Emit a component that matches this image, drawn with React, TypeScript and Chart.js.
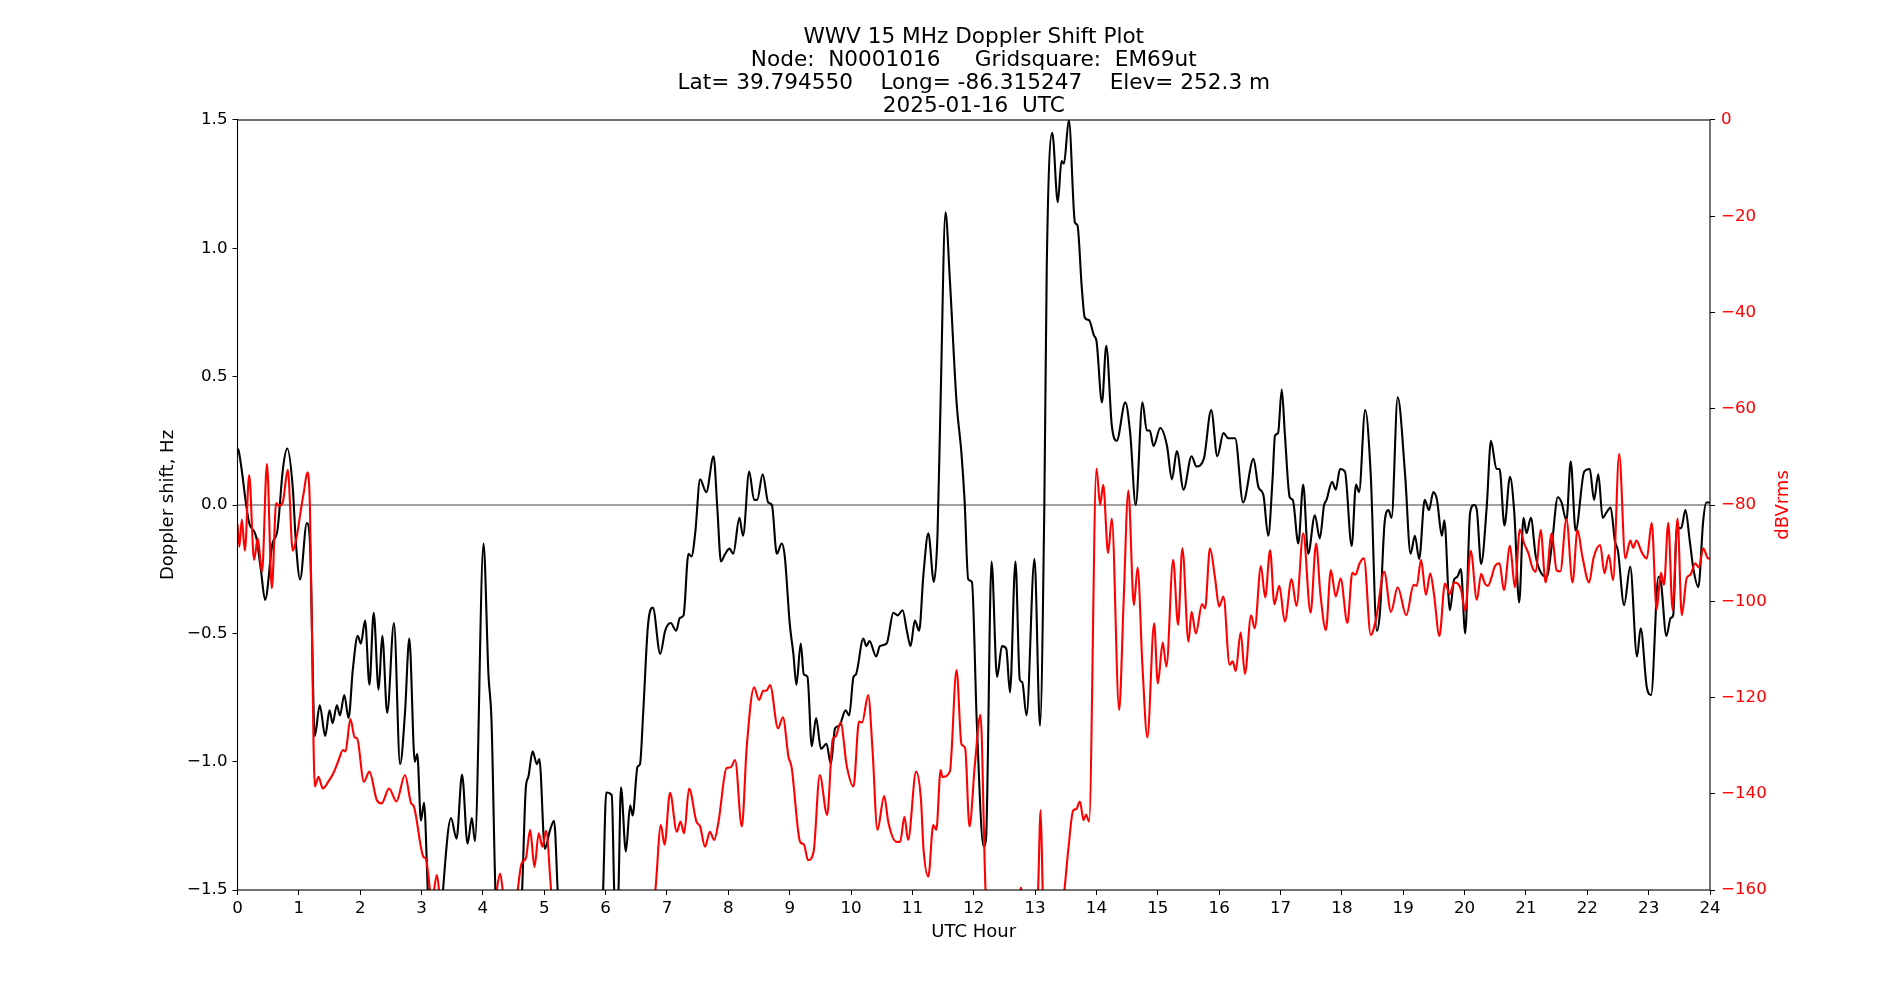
import React, { useEffect, useRef } from "react";
import { Chart, registerables } from "chart.js";

Chart.register(...registerables);

const FONT = "'DejaVu Sans', 'Liberation Sans', sans-serif";

const TITLE_LINES = [
  "WWV 15 MHz Doppler Shift Plot",
  "Node:  N0001016     Gridsquare:  EM69ut",
  "Lat= 39.794550    Long= -86.315247    Elev= 252.3 m",
  "2025-01-16  UTC",
];
const X_LABEL = "UTC Hour";
const Y_LABEL = "Doppler shift, Hz";
const Y2_LABEL = "dBVrms";

const X_RANGE = [0, 24];
const Y_RANGE = [-1.5, 1.5];
const Y2_RANGE = [-160, 0];

// Doppler shift (black), hours / Hz
const dopplerHours = [
  0.0, 0.02, 0.19, 0.3, 0.38, 0.45, 0.57, 0.65, 0.74, 0.81, 0.9, 0.95, 1.02, 1.13, 1.18,
  1.26, 1.34, 1.43, 1.5, 1.55, 1.62, 1.67, 1.74, 1.81, 1.88, 1.96, 2.01, 2.08, 2.15, 2.22,
  2.3, 2.36, 2.44, 2.55, 2.65, 2.73, 2.8, 2.89, 2.93, 2.99, 3.04, 3.11, 3.2, 3.3, 3.35,
  3.48, 3.57, 3.66, 3.75, 3.82, 3.87, 4.01, 4.09, 4.14, 4.21, 4.4, 4.63, 4.7, 4.74, 4.81,
  4.88, 4.92, 5.01, 5.09, 5.16, 5.23, 5.6, 5.95, 6.01, 6.1, 6.15, 6.2, 6.25, 6.33, 6.4,
  6.44, 6.52, 6.56, 6.61, 6.69, 6.77, 6.89, 6.97, 7.06, 7.15, 7.21, 7.27, 7.35, 7.4, 7.46,
  7.54, 7.64, 7.76, 7.82, 7.88, 7.95, 8.02, 8.08, 8.18, 8.24, 8.34, 8.42, 8.47, 8.56, 8.65,
  8.71, 8.79, 8.87, 8.92, 9.0, 9.06, 9.11, 9.18, 9.23, 9.29, 9.36, 9.43, 9.51, 9.6, 9.67,
  9.74, 9.81, 9.91, 9.97, 10.04, 10.08, 10.2, 10.25, 10.3, 10.41, 10.47, 10.58, 10.69, 10.76, 10.84,
  10.91, 10.97, 11.04, 11.11, 11.18, 11.26, 11.35, 11.41, 11.46, 11.54, 11.61, 11.72, 11.8, 11.85, 11.91,
  11.97, 12.05, 12.16, 12.2, 12.29, 12.38, 12.46, 12.53, 12.59, 12.68, 12.75, 12.79, 12.86, 12.99, 13.08,
  13.15, 13.19, 13.28, 13.37, 13.43, 13.47, 13.55, 13.65, 13.69, 13.76, 13.81, 13.88, 13.96, 14.0, 14.09,
  14.16, 14.25, 14.33, 14.47, 14.55, 14.64, 14.75, 14.82, 14.87, 14.93, 15.04, 15.15, 15.23, 15.31, 15.42,
  15.55, 15.63, 15.75, 15.87, 15.97, 16.07, 16.15, 16.26, 16.39, 16.56, 16.64, 16.72, 16.8, 16.87, 16.91,
  16.96, 17.02, 17.07, 17.15, 17.2, 17.29, 17.37, 17.45, 17.56, 17.64, 17.71, 17.75, 17.84, 17.9, 17.97,
  18.05, 18.16, 18.23, 18.28, 18.38, 18.47, 18.57, 18.62, 18.7, 18.76, 18.81, 18.91, 19.03, 19.12, 19.19,
  19.26, 19.35, 19.42, 19.49, 19.55, 19.63, 19.67, 19.76, 19.83, 19.88, 19.94, 20.01, 20.09, 20.16, 20.2,
  20.27, 20.36, 20.43, 20.52, 20.57, 20.65, 20.74, 20.81, 20.89, 20.96, 21.01, 21.08, 21.16, 21.26, 21.34,
  21.42, 21.52, 21.58, 21.66, 21.73, 21.81, 21.95, 22.04, 22.11, 22.18, 22.25, 22.31, 22.38, 22.45, 22.5,
  22.6, 22.7, 22.81, 22.87, 22.97, 23.04, 23.16, 23.2, 23.29, 23.36, 23.4, 23.46, 23.53, 23.6, 23.67,
  23.73, 23.81, 23.89, 23.94, 24.0,
];
const dopplerHz = [
  0.22, 0.21, -0.07, -0.12, -0.25, -0.37, -0.15, -0.1, 0.14, 0.22, 0.07, -0.14, -0.29, -0.07, -0.14,
  -0.9, -0.78, -0.9, -0.8, -0.85, -0.78, -0.82, -0.74, -0.83, -0.64, -0.51, -0.54, -0.45, -0.7, -0.42,
  -0.72, -0.51, -0.81, -0.46, -1.01, -0.81, -0.52, -1.0, -0.97, -1.23, -1.16, -1.55, -1.8, -1.7, -1.5,
  -1.22, -1.3, -1.05, -1.32, -1.22, -1.31, -0.15, -0.66, -0.84, -1.55, -1.9, -1.55, -1.1, -1.06, -0.96,
  -1.01, -0.99, -1.34, -1.27, -1.23, -1.55, -1.9, -1.55, -1.12, -1.13, -1.55, -1.55, -1.1, -1.35, -1.17,
  -1.21, -1.02, -1.01, -0.82, -0.47, -0.4, -0.58, -0.49, -0.46, -0.49, -0.44, -0.43, -0.19, -0.2, -0.11,
  0.1, 0.05, 0.19, -0.01, -0.22, -0.19, -0.17, -0.19, -0.05, -0.12, 0.13, 0.02, 0.02, 0.12, 0.01,
  0.0, -0.19, -0.15, -0.2, -0.46, -0.58, -0.7, -0.54, -0.66, -0.67, -0.94, -0.83, -0.95, -0.93, -1.01,
  -0.87, -0.86, -0.8, -0.82, -0.67, -0.66, -0.52, -0.55, -0.53, -0.59, -0.55, -0.54, -0.42, -0.43, -0.41,
  -0.49, -0.55, -0.45, -0.49, -0.27, -0.11, -0.3, -0.11, 0.41, 1.14, 0.88, 0.4, 0.2, 0.02, -0.29,
  -0.3, -0.85, -1.33, -1.3, -0.22, -0.67, -0.55, -0.56, -0.73, -0.22, -0.68, -0.69, -0.82, -0.21, -0.86,
  -0.01, 0.93, 1.45, 1.18, 1.34, 1.33, 1.5, 1.1, 1.09, 0.85, 0.73, 0.72, 0.66, 0.64, 0.4,
  0.62, 0.31, 0.25, 0.4, 0.28, 0.0, 0.4, 0.29, 0.29, 0.23, 0.3, 0.23, 0.1, 0.21, 0.06,
  0.19, 0.15, 0.18, 0.37, 0.19, 0.28, 0.26, 0.26, 0.01, 0.18, 0.07, 0.04, -0.12, 0.1, 0.27,
  0.28, 0.45, 0.28, 0.03, 0.02, -0.15, 0.08, -0.19, -0.04, -0.13, 0.0, 0.02, 0.09, 0.06, 0.14,
  0.13, -0.16, 0.08, 0.05, 0.37, 0.12, -0.49, -0.42, -0.06, -0.02, -0.05, 0.42, 0.12, -0.19, -0.12,
  -0.21, 0.02, -0.02, 0.05, 0.02, -0.12, -0.06, -0.41, -0.29, -0.28, -0.25, -0.5, -0.03, 0.0, -0.02,
  -0.23, -0.01, 0.25, 0.14, 0.14, -0.08, 0.11, -0.03, -0.38, -0.05, -0.11, -0.05, -0.2, -0.27, -0.28,
  -0.16, 0.03, 0.01, -0.06, 0.17, -0.1, 0.13, 0.14, 0.02, 0.12, -0.05, -0.03, -0.01, -0.14, -0.18,
  -0.39, -0.24, -0.59, -0.48, -0.71, -0.74, -0.28, -0.3, -0.51, -0.44, -0.43, -0.09, -0.09, -0.02, -0.14,
  -0.25, -0.32, -0.06, 0.01, 0.01,
];

// Signal level (red), hours / dBVrms
const levelHours = [
  0.0, 0.03, 0.07, 0.12, 0.19, 0.27, 0.33, 0.4, 0.48, 0.56, 0.63, 0.68, 0.74, 0.82, 0.9,
  0.96, 1.05, 1.08, 1.14, 1.18, 1.21, 1.26, 1.32, 1.39, 1.48, 1.56, 1.64, 1.72, 1.76, 1.84,
  1.91, 1.95, 2.06, 2.15, 2.27, 2.35, 2.47, 2.59, 2.73, 2.83, 2.87, 3.03, 3.07, 3.17, 3.25,
  3.31, 3.8, 4.2, 4.28, 4.35, 4.5, 4.56, 4.63, 4.7, 4.77, 4.84, 4.91, 4.97, 5.03, 5.13,
  6.0, 6.8, 6.9, 6.96, 7.05, 7.16, 7.22, 7.28, 7.36, 7.48, 7.54, 7.62, 7.7, 7.77, 7.84,
  7.97, 8.04, 8.11, 8.22, 8.3, 8.42, 8.5, 8.57, 8.62, 8.68, 8.81, 8.89, 8.98, 9.03, 9.17,
  9.23, 9.3, 9.39, 9.49, 9.61, 9.7, 9.75, 9.83, 9.93, 10.04, 10.13, 10.18, 10.28, 10.35, 10.43,
  10.54, 10.61, 10.74, 10.8, 10.87, 10.93, 11.06, 11.14, 11.18, 11.26, 11.34, 11.39, 11.46, 11.49, 11.61,
  11.72, 11.8, 11.86, 11.93, 12.02, 12.11, 12.2, 12.5, 12.7, 12.77, 12.84, 13.04, 13.09, 13.13, 13.3,
  13.46, 13.54, 13.62, 13.67, 13.73, 13.79, 13.83, 13.88, 14.0, 14.06, 14.11, 14.19, 14.25, 14.37, 14.44,
  14.52, 14.61, 14.67, 14.75, 14.83, 14.94, 15.0, 15.08, 15.14, 15.25, 15.33, 15.4, 15.5, 15.55, 15.62,
  15.72, 15.77, 15.85, 15.93, 16.0, 16.07, 16.17, 16.22, 16.27, 16.35, 16.42, 16.52, 16.58, 16.68, 16.75,
  16.83, 16.9, 16.98, 17.07, 17.18, 17.26, 17.37, 17.49, 17.58, 17.65, 17.74, 17.82, 17.9, 17.98, 18.09,
  18.17, 18.22, 18.29, 18.36, 18.47, 18.56, 18.69, 18.8, 18.91, 19.05, 19.17, 19.22, 19.29, 19.37, 19.44,
  19.5, 19.59, 19.68, 19.76, 19.83, 19.94, 20.01, 20.1, 20.2, 20.27, 20.33, 20.38, 20.44, 20.49, 20.57,
  20.64, 20.74, 20.82, 20.9, 20.97, 21.04, 21.1, 21.16, 21.24, 21.32, 21.42, 21.5, 21.56, 21.66, 21.76,
  21.84, 21.92, 22.03, 22.1, 22.21, 22.28, 22.35, 22.42, 22.52, 22.62, 22.7, 22.75, 22.8, 22.89, 22.97,
  23.05, 23.13, 23.2, 23.25, 23.32, 23.39, 23.47, 23.54, 23.62, 23.68, 23.76, 23.82, 23.89, 23.97, 24.0,
];
const levelDb = [
  -84.0, -88.7, -83.0, -89.5, -73.8, -91.4, -86.9, -93.9, -71.5, -97.3, -79.6, -80.2, -79.3, -72.7, -89.5,
  -86.9, -79.6, -77.4, -73.2, -80.3, -103.9, -138.5, -136.5, -138.9, -137.5, -135.8, -133.3, -130.9, -131.2, -124.5,
  -128.3, -128.5, -137.5, -135.4, -141.3, -142.0, -138.9, -141.6, -136.1, -142.0, -142.5, -153.1, -153.5, -162.0, -156.9,
  -163.0, -175.0, -162.0, -156.6, -163.0, -170.0, -161.0, -154.5, -153.4, -147.5, -155.2, -148.2, -151.0, -147.7, -162.0,
  -175.0, -161.0, -146.5, -150.6, -139.8, -147.9, -145.8, -148.2, -138.9, -145.8, -146.8, -151.0, -147.9, -149.6, -145.8,
  -134.7, -134.5, -133.0, -146.8, -130.2, -117.9, -120.5, -118.6, -118.6, -117.4, -126.4, -124.1, -132.3, -134.4, -150.0,
  -150.5, -153.8, -152.0, -136.1, -144.4, -128.8, -128.1, -125.2, -134.2, -138.5, -125.0, -125.2, -119.5, -130.9, -147.5,
  -140.5, -146.1, -150.0, -150.0, -144.8, -149.6, -135.4, -141.3, -151.3, -157.2, -146.5, -147.5, -135.1, -136.5, -135.4,
  -114.3, -129.7, -130.5, -146.8, -133.7, -123.6, -162.0, -175.0, -165.0, -159.5, -165.0, -162.0, -143.4, -162.0, -170.0,
  -162.0, -151.7, -143.5, -143.2, -141.6, -145.5, -144.3, -145.8, -72.4, -80.0, -75.8, -90.0, -82.8, -122.6, -101.1,
  -77.0, -100.8, -93.0, -113.6, -128.3, -104.6, -117.1, -108.6, -113.6, -91.4, -104.9, -89.0, -108.4, -102.2, -106.7,
  -100.6, -101.5, -89.0, -94.9, -101.1, -99.0, -113.2, -112.5, -114.5, -106.5, -115.1, -102.9, -105.6, -92.7, -99.2,
  -89.4, -100.6, -96.8, -104.2, -95.4, -101.0, -85.9, -102.4, -88.0, -98.5, -106.0, -93.5, -99.0, -95.3, -104.5,
  -94.1, -94.5, -92.1, -91.1, -107.0, -103.5, -93.9, -102.2, -97.1, -102.9, -96.6, -96.8, -91.4, -98.7, -94.2,
  -98.4, -107.2, -96.3, -98.5, -96.1, -97.5, -102.0, -89.5, -99.7, -94.3, -96.3, -96.8, -95.0, -92.8, -92.1,
  -97.7, -88.5, -97.1, -85.1, -88.0, -90.0, -92.8, -93.9, -85.2, -96.1, -85.9, -93.6, -93.8, -82.9, -96.1,
  -85.2, -90.7, -96.1, -91.1, -88.3, -94.2, -90.4, -95.6, -69.4, -91.1, -87.4, -88.9, -87.4, -89.9, -91.1,
  -83.7, -101.7, -94.1, -96.6, -83.7, -101.8, -82.8, -102.9, -95.2, -94.5, -92.1, -93.0, -89.0, -91.1, -91.1,
];

const minus = (s: string) => s.replace("-", "\u2212");

const zeroLinePlugin = {
  id: "zeroLine",
  beforeDatasetsDraw(chart: any) {
    const { ctx, chartArea } = chart;
    const y = chart.scales.y.getPixelForValue(0);
    ctx.save();
    ctx.strokeStyle = "#808080";
    ctx.lineWidth = 1.3;
    ctx.beginPath();
    ctx.moveTo(chartArea.left, y);
    ctx.lineTo(chartArea.right, y);
    ctx.stroke();
    ctx.restore();
  },
};

const framePlugin = {
  id: "frame",
  afterDatasetsDraw(chart: any) {
    const { ctx, chartArea } = chart;
    ctx.save();
    ctx.strokeStyle = "#000";
    ctx.lineWidth = 1.1;
    ctx.strokeRect(chartArea.left, chartArea.top, chartArea.right - chartArea.left, chartArea.bottom - chartArea.top);
    ctx.restore();
  },
};

const rightTitlePlugin = {
  id: "rightTitle",
  afterDraw(chart: any) {
    const { ctx, chartArea } = chart;
    ctx.save();
    ctx.translate(1783.5, (chartArea.top + chartArea.bottom) / 2);
    ctx.rotate(-Math.PI / 2);
    ctx.fillStyle = "#ff0000";
    ctx.font = `18px ${FONT}`;
    ctx.textAlign = "center";
    ctx.textBaseline = "middle";
    ctx.fillText(Y2_LABEL, 0, 0);
    ctx.restore();
  },
};

export default function App() {
  const ref = useRef<HTMLCanvasElement>(null);

  useEffect(() => {
    if (!ref.current) return;
    const tickFont = { family: FONT, size: 16.7 };
    const chart = new Chart(ref.current, {
      type: "line",
      data: {
        datasets: [
          {
            label: "Doppler",
            data: dopplerHours.map((h, i) => ({ x: h, y: dopplerHz[i] })),
            borderColor: "#000000",
            borderWidth: 2.1,
            pointRadius: 0,
            cubicInterpolationMode: "monotone",
            yAxisID: "y",
            order: 1,
          },
          {
            label: "Level",
            data: levelHours.map((h, i) => ({ x: h, y: levelDb[i] })),
            borderColor: "#ff0000",
            borderWidth: 2.1,
            pointRadius: 0,
            cubicInterpolationMode: "monotone",
            yAxisID: "y1",
            order: 0,
          },
        ],
      },
      options: {
        responsive: false,
        maintainAspectRatio: false,
        devicePixelRatio: 1,
        animation: false,
        events: [],
        layout: { padding: { left: 157.2, right: 0, top: 0, bottom: 57 } },
        plugins: {
          legend: { display: false },
          tooltip: { enabled: false },
          title: {
            display: true,
            text: TITLE_LINES,
            fullSize: false,
            color: "#000",
            font: { family: FONT, size: 21.6, weight: "normal", lineHeight: 23 / 21.6 },
            padding: { top: 26, bottom: 2 },
          },
        },
        scales: {
          x: {
            type: "linear",
            position: "bottom",
            min: X_RANGE[0],
            max: X_RANGE[1],
            afterFit: (s: any) => {
              s.height = 53;
            },
            grid: { display: true, drawOnChartArea: false, drawTicks: true, tickLength: 5, tickColor: "#000", tickWidth: 1 },
            border: { display: false },
            ticks: {
              stepSize: 1,
              autoSkip: false,
              maxRotation: 0,
              padding: 4,
              color: "#000",
              font: tickFont,
              callback: (v: any) => String(v),
            },
            title: { display: true, text: X_LABEL, color: "#000", font: { family: FONT, size: 18 }, padding: 0 },
          },
          y: {
            type: "linear",
            position: "left",
            min: Y_RANGE[0],
            max: Y_RANGE[1],
            afterFit: (s: any) => {
              s.width = 80.3;
            },
            grid: { display: true, drawOnChartArea: false, drawTicks: true, tickLength: 5, tickColor: "#000", tickWidth: 1 },
            border: { display: false },
            ticks: {
              stepSize: 0.5,
              padding: 5,
              color: "#000",
              font: tickFont,
              callback: (v: any) => minus(Number(v).toFixed(1)),
            },
            title: { display: true, text: Y_LABEL, color: "#000", font: { family: FONT, size: 18 }, padding: 0 },
          },
          y1: {
            type: "linear",
            position: "right",
            min: Y2_RANGE[0],
            max: Y2_RANGE[1],
            afterFit: (s: any) => {
              s.width = 190;
            },
            grid: { display: true, drawOnChartArea: false, drawTicks: true, tickLength: 5, tickColor: "#000", tickWidth: 1 },
            border: { display: false },
            ticks: {
              stepSize: 20,
              padding: 6,
              color: "#ff0000",
              font: tickFont,
              callback: (v: any) => minus(String(Math.round(Number(v)))),
            },
          },
        },
      },
      plugins: [zeroLinePlugin, framePlugin, rightTitlePlugin],
    } as any);
    return () => chart.destroy();
  }, []);

  return (
    <div style={{ position: "fixed", left: 0, top: 0, width: 1900, height: 1000, background: "#fff" }}>
      <canvas ref={ref} width={1900} height={1000} style={{ width: 1900, height: 1000, display: "block" }} />
    </div>
  );
}
